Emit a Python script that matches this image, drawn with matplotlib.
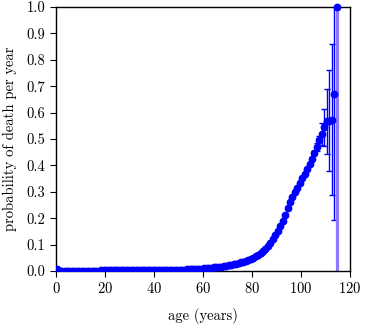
import matplotlib
matplotlib.use("Agg")
import matplotlib.pyplot as plt
from matplotlib.ticker import FormatStrFormatter

plt.rcParams['font.family'] = ['cmr10', 'DejaVu Serif']
plt.rcParams['mathtext.fontset'] = 'cm'
plt.rcParams['axes.formatter.use_mathtext'] = True

# age (completed years); points drawn at mid-year
ages = list(range(0, 115))
prob = [
    0.0065, 0.0005, 0.0003, 0.0002, 0.0002, 0.0002, 0.0002, 0.0002, 0.0002, 0.0002,
    0.0002, 0.0002, 0.0002, 0.0002, 0.0003, 0.0004, 0.0005, 0.0006, 0.0020, 0.0020,
    0.0021, 0.0021, 0.0021, 0.0022, 0.0022, 0.0022, 0.0023, 0.0023, 0.0023, 0.0024,
    0.0024, 0.0024, 0.0025, 0.0025, 0.0025, 0.0026, 0.0026, 0.0027, 0.0027, 0.0028,
    0.0028, 0.0029, 0.0029, 0.0030, 0.0030, 0.0031, 0.0032, 0.0033, 0.0034, 0.0035,
    0.0036, 0.0050, 0.0055, 0.0060, 0.0065, 0.0070, 0.0075, 0.0080, 0.0087, 0.0094,
    0.0100, 0.0110, 0.0120, 0.0130, 0.0140, 0.0150, 0.0160, 0.0170, 0.0190, 0.0200,
    0.0220, 0.0240, 0.0260, 0.0280, 0.0300, 0.0330, 0.0350, 0.0380, 0.0420, 0.0460,
    0.0500, 0.0550, 0.0610, 0.0670, 0.0750, 0.0840, 0.0940, 0.1060, 0.1200, 0.1360,
    0.1520, 0.1700, 0.1890, 0.2120, 0.2380, 0.2600, 0.2800, 0.2990, 0.3160, 0.3330,
    0.3510, 0.3680, 0.3870, 0.4060, 0.4250, 0.4470, 0.4700, 0.4950, 0.5200, 0.5450,
    0.5670, 0.5700, 0.5730, 0.6690, 1.0000,
]
# standard errors for the oldest ages (where visible)
err_ages = [102, 103, 104, 105, 106, 107, 108, 109, 110, 111, 112, 113]
err_vals = [0.003, 0.004, 0.006, 0.009, 0.014, 0.016, 0.042, 0.070, 0.124, 0.190, 0.287, 0.475]
last_age = 114
last_err = 1.0

fig = plt.figure(figsize=(3.65, 3.31), dpi=100)
ax = fig.add_axes([0.1534, 0.1813, 0.8055, 0.7976])

xs = [a + 0.5 for a in ages]
ax.plot(xs[:-1], prob[:-1], 'o', color='#0000ff', ms=4.6, mec='#0000ff', zorder=3)

ex = [a + 0.5 for a in err_ages]
ey = [prob[a] for a in err_ages]
ax.errorbar(ex, ey, yerr=err_vals, fmt='none', ecolor='#0000ff', elinewidth=1.0,
            capsize=2.2, capthick=1.0, zorder=2)

# last point with its very wide uncertainty band
ax.errorbar([last_age + 0.5], [prob[last_age]], yerr=[[last_err], [last_err]], fmt='none',
            ecolor='#8f78ff', elinewidth=2.3, capsize=0, zorder=2)
ax.plot([last_age + 0.5], [prob[last_age]], 'o', color='#0000ff', ms=4.6, zorder=4,
        clip_on=False)

ax.set_xlim(0, 120)
ax.set_ylim(0, 1.0)
ax.set_xticks([0, 20, 40, 60, 80, 100, 120])
ax.set_yticks([0.0, 0.1, 0.2, 0.3, 0.4, 0.5, 0.6, 0.7, 0.8, 0.9, 1.0])
ax.yaxis.set_major_formatter(FormatStrFormatter('%.1f'))
ax.tick_params(direction='out', length=4, width=0.8, labelsize=10.5, top=False, right=False)
for s in ax.spines.values():
    s.set_linewidth(1.0)

ax.set_xlabel('age (years)', fontsize=10.5, labelpad=8)
ax.set_ylabel('probability of death per year', fontsize=10.5, labelpad=7)

fig.savefig('out.png', dpi=100)
